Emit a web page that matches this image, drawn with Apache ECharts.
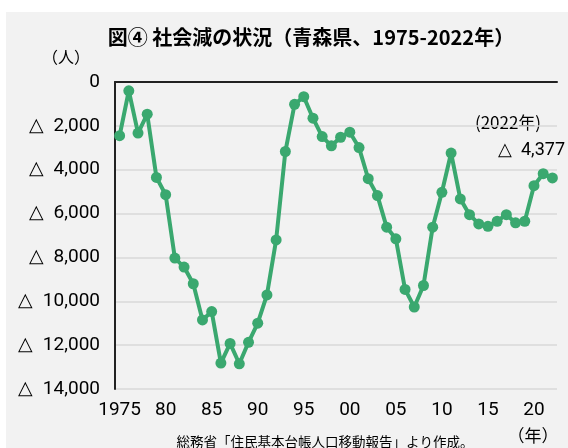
<!DOCTYPE html>
<html>
<head>
<meta charset="utf-8">
<script src="https://cdn.jsdelivr.net/npm/echarts@6/dist/echarts.min.js"></script>
<style>
    html, body { margin: 0; padding: 0; background: #fff; }
    #main { width: 568px; height: 448px; }
</style>
</head>
<body>
<div id="main"></div>
<script>
// 年（1975-2022）
const years = [];
for (let y = 1975; y <= 2022; y++) years.push(String(y));

// 社会減（人、マイナス値）
const socialDecrease = [
    -2450, -400, -2330, -1470, -4350, -5140, -8030, -8440, -9200, -10850,
    -10470, -12820, -11920, -12850, -11870, -11000, -9710, -7200, -3170, -1020,
    -670, -1650, -2490, -2910, -2520, -2290, -2990, -4410, -5180, -6620,
    -7150, -9460, -10260, -9280, -6620, -5030, -3240, -5330, -6050, -6470,
    -6580, -6350, -6050, -6420, -6350, -4730, -4180, -4377
];

function yLabel(v) {
    if (v === 0) return '0';
    return '△  ' + Math.abs(v).toLocaleString('en-US');
}

function xLabel(v) {
    const y = Number(v);
    if (y === 1975) return '1975';
    return String(y % 100).padStart(2, '0');
}

const fontFamily = '"Noto Sans CJK JP", "Liberation Sans", sans-serif';

let chartDom = document.getElementById('main');
let myChart = echarts.init(chartDom);
let option = {
    backgroundColor: '#fff',
    animation: false,
    textStyle: { fontFamily: fontFamily },
    graphic: [
        {
            type: 'rect', z: -10, silent: true,
            shape: { x: 6, y: 12, width: 562, height: 436 },
            style: { fill: '#f2f2f2' }
        },
        {
            type: 'text', x: 311, y: 37,
            style: {
                text: '図④ 社会減の状況（青森県、1975-2022年）',
                font: 'bold 20px "Noto Sans CJK JP"', fill: '#000',
                align: 'center', verticalAlign: 'middle'
            }
        },
        {
            type: 'text', x: 66, y: 57,
            style: { text: '（人）', font: '16px "Noto Sans CJK JP"', fill: '#000', align: 'center', verticalAlign: 'middle' }
        },
        {
            type: 'text', x: 533, y: 436,
            style: { text: '（年）', font: '17px "Noto Sans CJK JP"', fill: '#000', align: 'center', verticalAlign: 'middle' }
        },
        {
            type: 'text', x: 325, y: 442,
            style: { text: '総務省「住民基本台帳人口移動報告」より作成。', font: '13.5px "Noto Sans CJK JP"', fill: '#000', align: 'center', verticalAlign: 'middle' }
        },
        {
            type: 'text', x: 508, y: 123,
            style: { text: '(2022年)', font: '17px "Noto Sans CJK JP"', fill: '#000', align: 'center', verticalAlign: 'middle' }
        },
        {
            type: 'text', x: 565, y: 150,
            style: { text: '△  4,377', font: '18px "Roboto"', fill: '#000', align: 'right', verticalAlign: 'middle' }
        }
    ],
    grid: { left: 115, right: 11, top: 82, bottom: 59 },
    xAxis: [
        {
            type: 'category', data: years, position: 'top', boundaryGap: true,
            axisLine: { show: true, onZero: false, lineStyle: { color: '#222', width: 2 } },
            axisTick: { show: false }, axisLabel: { show: false }
        },
        {
            type: 'category', data: years, position: 'bottom', boundaryGap: true,
            axisLine: { show: false }, axisTick: { show: false },
            axisLabel: {
                interval: 0, margin: 12, fontSize: 19, color: '#000',
                fontFamily: '"Roboto", sans-serif',
                formatter: function (v) {
                    return (Number(v) - 1975) % 5 === 0 ? xLabel(v) : '';
                }
            }
        }
    ],
    yAxis: {
        type: 'value', min: -14000, max: 0, interval: 2000,
        axisLine: { show: true, lineStyle: { color: '#222', width: 2 } },
        axisTick: { show: false },
        splitLine: { show: true, lineStyle: { color: '#d9d9d9', width: 1.5 } },
        axisLabel: {
            margin: 15, fontSize: 19, color: '#000',
            fontFamily: '"Roboto", sans-serif',
            formatter: yLabel
        }
    },
    series: [
        {
            name: '社会減', type: 'line', xAxisIndex: 0,
            data: socialDecrease,
            symbol: 'circle', symbolSize: 11, showAllSymbol: true,
            lineStyle: { color: '#3aa86f', width: 4 },
            itemStyle: { color: '#3aa86f' }
        }
    ]
};
option && myChart.setOption(option);
</script>
</body>
</html>
